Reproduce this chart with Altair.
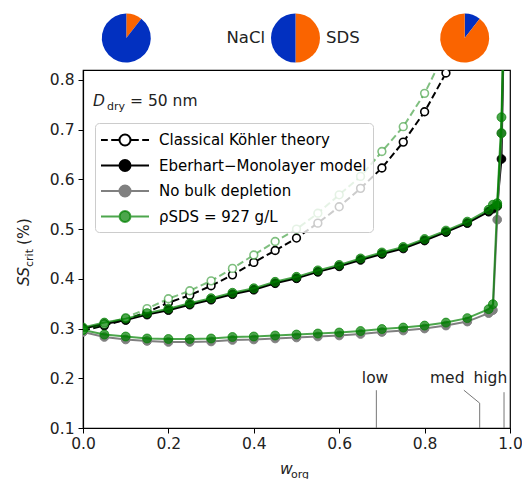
import altair as alt
import pandas as pd

# ---------------- data ----------------
W_MAIN = [0.00, 0.05, 0.10, 0.15, 0.20, 0.25, 0.30, 0.35, 0.40, 0.45, 0.50, 0.55,
          0.60, 0.65, 0.70, 0.75, 0.80, 0.85, 0.90, 0.95, 0.96, 0.97, 0.98, 0.99]
W_KOHLER = [0.00, 0.05, 0.10, 0.15, 0.20, 0.25, 0.30, 0.35, 0.40, 0.45, 0.50, 0.55,
            0.60, 0.65, 0.70, 0.75, 0.80, 0.85, 0.90]

KOHLER_BLACK = [0.296, 0.306, 0.318, 0.333, 0.352, 0.367, 0.386, 0.408, 0.433, 0.457,
                0.482, 0.512, 0.545, 0.582, 0.623, 0.675, 0.736, 0.814, 0.920]
KOHLER_GREEN = [0.297, 0.309, 0.322, 0.340, 0.360, 0.376, 0.396, 0.421, 0.448, 0.475,
                0.500, 0.532, 0.569, 0.606, 0.656, 0.706, 0.773, 0.860, 0.960]
EBER_BLACK = [0.300, 0.309, 0.317, 0.328, 0.337, 0.348, 0.358, 0.369, 0.378, 0.391,
              0.401, 0.414, 0.425, 0.438, 0.450, 0.461, 0.477, 0.494, 0.512, 0.535,
              0.541, 0.546, 0.641, 1.100]
EBER_GREEN = [0.302, 0.312, 0.320, 0.331, 0.340, 0.351, 0.361, 0.372, 0.381, 0.394,
              0.404, 0.417, 0.428, 0.441, 0.453, 0.464, 0.480, 0.497, 0.515, 0.539,
              0.549, 0.552, 0.725, 1.100]
NOBULK_GREY = [0.293, 0.283, 0.278, 0.275, 0.273, 0.273, 0.274, 0.277, 0.278, 0.280,
               0.282, 0.284, 0.286, 0.289, 0.293, 0.296, 0.300, 0.306, 0.314, 0.331,
               0.337, 0.519, 0.693, 1.100]
NOBULK_GREEN = [0.297, 0.288, 0.284, 0.280, 0.279, 0.279, 0.280, 0.283, 0.284, 0.286,
                0.288, 0.290, 0.292, 0.295, 0.299, 0.302, 0.306, 0.312, 0.321, 0.339,
                0.349, 0.548, 0.693, 1.100]

LEG = ["Classical Köhler theory", "Eberhart\u2212Monolayer model",
       "No bulk depletion", "\u03c1SDS = 927 g/L"]

# annotation markers (w_org of low / med / high)
ANN_LABEL = ["low", "med", "high"]
ANN_TEXT_W = [0.684, 0.853, 0.954]
ANN_TEXT_SS = [0.19, 0.19, 0.19]
ANN_LINE_ID = ["low", "low", "med", "med", "med", "high", "high"]
ANN_LINE_W = [0.687, 0.687, 0.929, 0.929, 0.892, 0.986, 0.986]
ANN_LINE_SS = [0.100, 0.176, 0.100, 0.150, 0.176, 0.100, 0.172]

# pies: composition (NaCl / SDS)
PIE_COMP = ["SDS", "NaCl"]
PIE_LOW = [0.105, 0.895]
PIE_MID = [0.5, 0.5]
PIE_HIGH_COMP = ["NaCl", "SDS"]
PIE_HIGH = [0.105, 0.895]
PIE_COLORS = {"NaCl": "#0230c0", "SDS": "#fa6400"}

# ---------------- styling ----------------
BLACK = "#000000"
GREY = "#808080"
GREEN = "rgba(0,128,0,0.7)"
GREEN_LIGHT = "rgba(0,128,0,0.5)"
FONT = "DejaVu Sans"

CIRCLE = "M0.55,0A0.55,0.55,0,1,1,-0.55,0A0.55,0.55,0,1,1,0.55,0Z"
PATH_SOLID = "M-2.4,0H-0.55M0.55,0H2.4" + CIRCLE
PATH_DASHED = "M-2.4,0H-1.72M-1.38,0H-0.55M0.55,0H1.38M1.72,0H2.4" + CIRCLE

legend = alt.Legend(
    title=None, orient="none", legendX=12, legendY=53,
    symbolSize=400, symbolStrokeWidth=2, symbolOpacity=1,
    symbolOffset=13, labelOffset=23, labelFontSize=15,
    labelFont=FONT, labelColor="black", rowPadding=4.5,
    padding=6, fillColor="rgba(255,255,255,0.8)",
    strokeColor="#cccccc", cornerRadius=4, labelLimit=400,
)

stroke_scale = alt.Scale(domain=LEG, range=[BLACK, BLACK, GREY, GREEN])
fill_scale = alt.Scale(domain=LEG, range=["white", BLACK, GREY, GREEN])
shape_scale = alt.Scale(domain=LEG, range=[PATH_DASHED, PATH_SOLID, PATH_SOLID, PATH_SOLID])

xs = alt.Scale(domain=[0, 1], nice=False, zero=False)
ys = alt.Scale(domain=[0.1, 0.82], nice=False, zero=False)

X = alt.X("w:Q", scale=xs, title=None,
          axis=alt.Axis(values=[0, 0.2, 0.4, 0.6, 0.8, 1.0], format=".1f"))
Y = alt.Y("ss:Q", scale=ys, title=None,
          axis=alt.Axis(values=[0.1, 0.2, 0.3, 0.4, 0.5, 0.6, 0.7, 0.8], format=".1f"))


def frame(w, ss, leg):
    return pd.DataFrame({"w": w, "ss": ss, "leg": leg})


df_kb = frame(W_KOHLER, KOHLER_BLACK, LEG[0])
df_kg = frame(W_KOHLER, KOHLER_GREEN, LEG[3])
df_eb = frame(W_MAIN, EBER_BLACK, LEG[1])
df_eg = frame(W_MAIN, EBER_GREEN, LEG[3])
df_nb = frame(W_MAIN, NOBULK_GREY, LEG[2])
df_ng = frame(W_MAIN, NOBULK_GREEN, LEG[3])

S = alt.Stroke("leg:N", scale=stroke_scale, legend=legend)
F = alt.Fill("leg:N", scale=fill_scale, legend=legend)
SH = alt.Shape("leg:N", scale=shape_scale, legend=legend)

layers = []

# legend-only layer (all rows filtered out: it only carries the symbol shapes)
layers.append(alt.Chart(df_kb).transform_filter("false")
              .mark_point(filled=True, opacity=1)
              .encode(x=X, y=Y, stroke=S, fill=F, shape=SH))

# Classical Köhler (black, dashed, open)
layers.append(alt.Chart(df_kb).mark_line(strokeWidth=2, strokeDash=[7, 3.5], clip=True)
              .encode(x=X, y=Y, stroke=S))
layers.append(alt.Chart(df_kb).mark_point(filled=False, fill="white", fillOpacity=1,
                                          size=60, strokeWidth=1.6, clip=True, opacity=1)
              .encode(x=X, y=Y, stroke=S))
# Eberhart (black) and no-bulk (grey)
for d in (df_eb, df_nb):
    layers.append(alt.Chart(d).mark_line(strokeWidth=2, clip=True).encode(x=X, y=Y, stroke=S))
    layers.append(alt.Chart(d).mark_point(filled=True, size=75, strokeWidth=1, clip=True, opacity=1)
                  .encode(x=X, y=Y, stroke=S, fill=F))
# green Köhler
layers.append(alt.Chart(df_kg).mark_line(strokeWidth=2, strokeDash=[7, 3.5], clip=True)
              .encode(x=X, y=Y, stroke=alt.value(GREEN_LIGHT)))
layers.append(alt.Chart(df_kg).mark_point(filled=False, fill="white", fillOpacity=1,
                                          size=60, strokeWidth=1.6, clip=True, opacity=1)
              .encode(x=X, y=Y, stroke=alt.value(GREEN_LIGHT)))
# green Eberhart / no bulk
for d in (df_ng, df_eg):
    layers.append(alt.Chart(d).mark_line(strokeWidth=2, clip=True).encode(x=X, y=Y, stroke=S))
    layers.append(alt.Chart(d).mark_point(filled=True, size=80, strokeWidth=1, clip=True, opacity=1)
                  .encode(x=X, y=Y, stroke=S, fill=F))

# low / med / high annotations
df_annl = pd.DataFrame({"w": ANN_LINE_W, "ss": ANN_LINE_SS, "id": ANN_LINE_ID,
                        "o": list(range(len(ANN_LINE_W)))})
layers.append(alt.Chart(df_annl).mark_line(color="#777777", strokeWidth=1)
              .encode(x=X, y=Y, detail="id:N", order="o:Q"))
df_annt = pd.DataFrame({"w": ANN_TEXT_W, "ss": ANN_TEXT_SS, "t": ANN_LABEL})
layers.append(alt.Chart(df_annt).mark_text(fontSize=15.5, font=FONT, color="#222222",
                                           align="center", baseline="alphabetic")
              .encode(x=X, y=Y, text="t:N"))

# pies
pie_centres = [43.3, 212.5, 381.7]
pie_data = [(PIE_COMP, PIE_LOW), (PIE_COMP, PIE_MID), (PIE_HIGH_COMP, PIE_HIGH)]
for cx, (comp, frac) in zip(pie_centres, pie_data):
    dfp = pd.DataFrame({"comp": comp, "frac": frac, "ord": list(range(len(comp))),
                        "col": [PIE_COLORS[c] for c in comp]})
    layers.append(alt.Chart(dfp).mark_arc(outerRadius=24.5)
                  .encode(theta=alt.Theta("frac:Q", stack=True),
                          order=alt.Order("ord:Q"),
                          color=alt.Color("col:N", scale=None),
                          x=alt.value(cx), y=alt.value(-32)))


def txt(t, x, y, size=15.5, style="normal", align="left", baseline="alphabetic", angle=0):
    return alt.Chart(pd.DataFrame({"t": [t]})).mark_text(
        fontSize=size, font=FONT, fontStyle=style, align=align, baseline=baseline,
        angle=angle, color="#222222").encode(text="t:N", x=alt.value(x), y=alt.value(y))


layers += [
    txt("NaCl", 182, -32, size=16.5, align="right", baseline="middle"),
    txt("SDS", 243, -32, size=16.5, align="left", baseline="middle"),
    txt("D", 10, 36, style="italic"),
    txt("dry", 24, 39.5, size=11),
    txt("= 50 nm", 47, 36),
    txt("w", 197, 404, style="italic"),
    txt("org", 208, 407.5, size=11),
    txt("SS", -54, 216, style="italic", angle=270),
    txt("crit", -50.5, 197, size=11, angle=270),
    txt("(%)", -54, 175, angle=270),
]

chart = alt.layer(*layers).properties(
    width=427, height=358, autosize="none",
    padding={"left": 83, "top": 70, "right": 12, "bottom": 51},
).configure_view(stroke="black", strokeWidth=1.2).configure_axis(
    grid=False, domainColor="black", tickColor="black", labelColor="#222222",
    labelFont=FONT, labelFontSize=15.5, tickSize=5, labelPadding=3,
    domainWidth=1.2, labelFlush=False, labelOverlap=False,
).configure_axisY(labelPadding=4)

chart.save("out.html", embed_options={"renderer": "svg", "actions": False})
